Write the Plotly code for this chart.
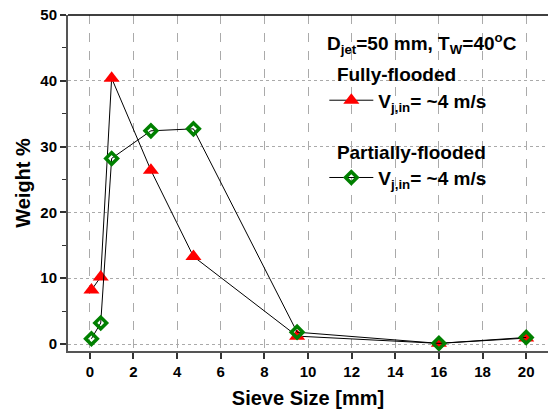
import plotly.graph_objects as go

# Data
sieve_size = [0.075, 0.5, 1.0, 2.8, 4.75, 9.5, 16, 20]
fully_flooded = [8.2, 10.2, 40.4, 26.4, 13.3, 1.2, 0.1, 0.9]
partially_flooded = [0.8, 3.2, 28.2, 32.4, 32.7, 1.8, 0.1, 1.0]

x_ticks = [0, 2, 4, 6, 8, 10, 12, 14, 16, 18, 20]
y_ticks = [0, 10, 20, 30, 40, 50]

FONT = "Liberation Sans, Arial, sans-serif"

fig = go.Figure()
fig.add_trace(go.Scatter(
    x=sieve_size, y=fully_flooded, mode="lines+markers",
    name="<b>V<sub>j,in</sub>= ~4 m/s</b>",
    line=dict(color="black", width=1),
    marker=dict(symbol="triangle-up", size=14, color="#FF0000",
                line=dict(color="#FF0000", width=0)),
    legend="legend", showlegend=True,
))
fig.add_trace(go.Scatter(
    x=sieve_size, y=partially_flooded, mode="lines+markers",
    name="<b>V<sub>j,in</sub>= ~4 m/s</b>",
    line=dict(color="black", width=1),
    marker=dict(symbol="diamond-open", size=9, color="#008000",
                line=dict(color="#008000", width=3.5)),
    legend="legend2", showlegend=True,
))

fig.add_annotation(
    x=0.7375, y=0.916, xref="paper", yref="paper", showarrow=False,
    text="<b>D<sub>jet</sub>=50 mm, T<sub>W</sub>=40<sup>o</sup>C</b>",
    font=dict(family=FONT, size=19, color="black"),
    xanchor="center", yanchor="middle",
)

# top spine
fig.add_shape(type="line", xref="paper", yref="paper", x0=0, x1=1, y0=1, y1=1,
              line=dict(color="black", width=1.5))

fig.update_layout(
    width=548, height=412,
    showlegend=True,
    margin=dict(l=68, r=0, t=15, b=61),
    paper_bgcolor="white", plot_bgcolor="white",
    font=dict(family=FONT, color="black"),
    legend=dict(
        x=0.534, y=0.876, xanchor="left", yanchor="top",
        bgcolor="rgba(0,0,0,0)", itemwidth=44,
        title=dict(text="<b>\u00a0\u00a0Fully-flooded</b>", font=dict(family=FONT, size=19)),
        font=dict(family=FONT, size=19, color="black"),
    ),
    legend2=dict(
        x=0.534, y=0.646, xanchor="left", yanchor="top",
        bgcolor="rgba(0,0,0,0)", itemwidth=44,
        title=dict(text="<b>\u00a0\u00a0Partially-flooded</b>", font=dict(family=FONT, size=19)),
        font=dict(family=FONT, size=19, color="black"),
    ),
    xaxis=dict(
        range=[-1, 21], tickvals=x_ticks, ticktext=[f"<b>{v}</b>" for v in x_ticks],
        ticks="outside", ticklen=6, tickwidth=1.5, tickcolor="#333",
        showline=True, linecolor="#555", linewidth=2,
        showgrid=True, gridcolor="#aaaaaa", griddash="dash", gridwidth=1,
        zeroline=False,
        tickfont=dict(family=FONT, size=15, color="black"),
        title=dict(text="<b>Sieve Size [mm]</b>", font=dict(family=FONT, size=20), standoff=12),
    ),
    yaxis=dict(
        range=[-1.06, 50], tickvals=y_ticks, ticktext=[f"<b>{v}</b>" for v in y_ticks],
        ticks="outside", ticklen=6, tickwidth=1.5, tickcolor="#333",
        minor=dict(dtick=5, tick0=0, ticks="outside", ticklen=4, tickwidth=1, tickcolor="#333", showgrid=False),
        showline=True, linecolor="#555", linewidth=2,
        showgrid=True, gridcolor="#aaaaaa", griddash="dot", gridwidth=1,
        zeroline=False,
        tickfont=dict(family=FONT, size=15, color="black"),
        title=dict(text="<b>Weight %</b>", font=dict(family=FONT, size=20), standoff=4),
    ),
)

fig.write_html("out.html", config={"displayModeBar": False},
               post_script="document.body.style.margin='0';")
